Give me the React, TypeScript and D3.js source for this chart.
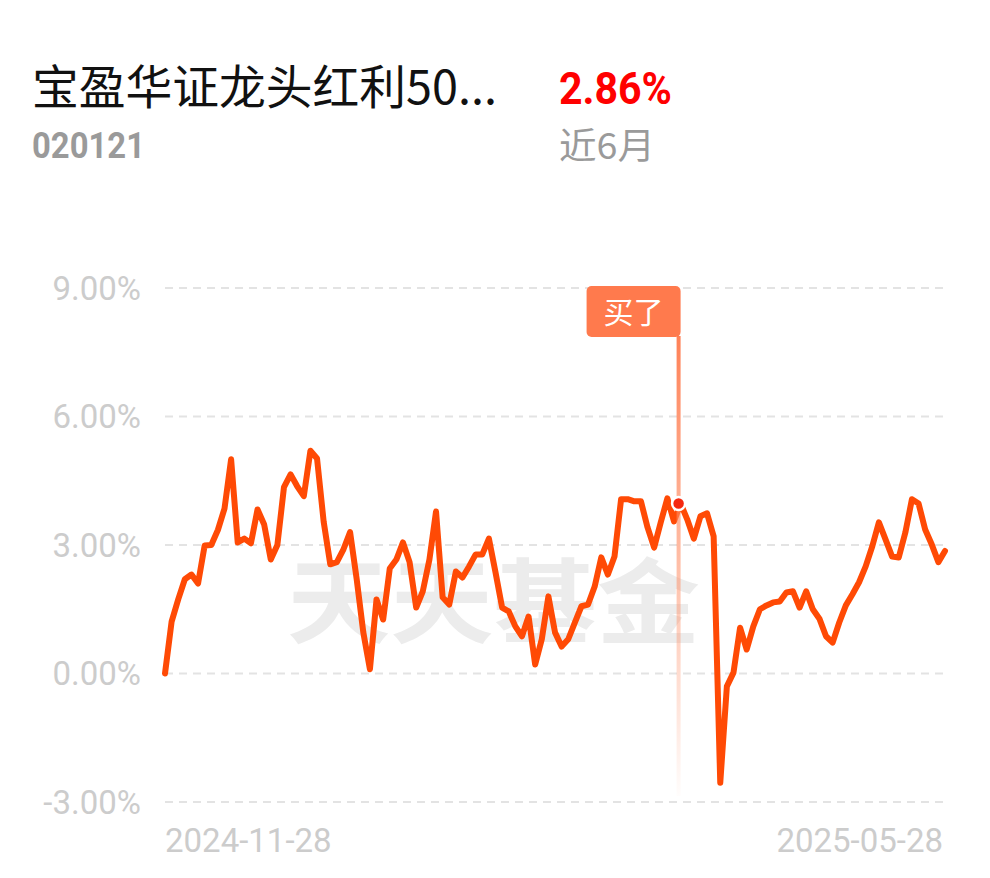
import React, { useEffect, useRef } from 'react';
import * as d3 from 'd3';

// daily return since start (%)
const returns: number[] = [
	0, 1.21, 1.73, 2.2, 2.31, 2.1, 2.99, 3.0, 3.35, 3.85,
	5.0, 3.06, 3.15, 3.04, 3.83, 3.48, 2.66, 3.0, 4.35, 4.65,
	4.37, 4.14, 5.2, 5.02, 3.55, 2.55, 2.6, 2.9, 3.3, 2.2,
	0.96, 0.1, 1.73, 1.26, 2.45, 2.66, 3.06, 2.6, 1.54, 1.92,
	2.66, 3.78, 1.78, 1.61, 2.38, 2.24, 2.5, 2.78, 2.78, 3.15,
	2.36, 1.54, 1.45, 1.1, 0.87, 1.33, 0.21, 0.8, 1.8, 0.96,
	0.63, 0.8, 1.19, 1.57, 1.61, 2.03, 2.71, 2.31, 2.73, 4.07,
	4.07, 4.02, 4.02, 3.41, 2.94, 3.53, 4.09, 3.55, 3.97, 3.6,
	3.15, 3.67, 3.74, 3.2, -2.55, -0.3, 0.02, 1.07, 0.56, 1.1,
	1.5, 1.59, 1.66, 1.68, 1.89, 1.92, 1.54, 1.92, 1.5, 1.28,
	0.87, 0.72, 1.19, 1.59, 1.85, 2.13, 2.5, 2.97, 3.53, 3.13,
	2.73, 2.71, 3.29, 4.07, 3.97, 3.36, 3.01, 2.6, 2.86,
];

const yTicks: number[] = [9, 6, 3, 0, -3];
const xTickLabels: string[] = ['2024-11-28', '2025-05-28'];
const buyIndex = 78;
const buyLabel = '买了';

const fundName = '宝盈华证龙头红利50...';
const fundCode = '020121';
const periodReturn = '2.86%';
const periodLabel = '近6月';

const App: React.FC = () => {
	const ref = useRef<SVGSVGElement>(null);

	const width = 990;
	const height = 878;
	const margin = { top: 288, right: 45, bottom: 76, left: 165 };

	useEffect(() => {
		if (!ref.current) return;
		const svg = d3.select(ref.current);
		svg.selectAll('*').remove();

		svg.append('rect').attr('width', width).attr('height', height).attr('fill', '#fff');

		const x = d3
			.scaleLinear()
			.domain([0, returns.length - 1])
			.range([margin.left, width - margin.right]);
		const y = d3
			.scaleLinear()
			.domain([-3, 9])
			.range([height - margin.bottom, margin.top]);

		// --- header ---
		svg
			.append('text')
			.attr('x', 32)
			.attr('y', 104)
			.attr('font-family', '"Noto Sans CJK SC", "Noto Sans", sans-serif')
			.attr('font-size', 47)
			.attr('fill', '#111')
			.attr('textLength', 465)
			.attr('lengthAdjust', 'spacingAndGlyphs')
			.text(fundName);
		svg
			.append('text')
			.attr('x', 32)
			.attr('y', 158)
			.attr('font-family', 'Roboto, sans-serif')
			.attr('font-weight', 'bold')
			.attr('font-size', 37)
			.attr('fill', '#9a9a9a')
			.attr('textLength', 113)
			.attr('lengthAdjust', 'spacingAndGlyphs')
			.text(fundCode);
		svg
			.append('text')
			.attr('x', 559)
			.attr('y', 104)
			.attr('font-family', 'Roboto, sans-serif')
			.attr('font-weight', 'bold')
			.attr('font-size', 44)
			.attr('fill', '#ff0000')
			.attr('textLength', 113)
			.attr('lengthAdjust', 'spacingAndGlyphs')
			.text(periodReturn);
		svg
			.append('text')
			.attr('x', 559)
			.attr('y', 159)
			.attr('font-family', '"Noto Sans CJK SC", sans-serif')
			.attr('font-size', 36)
			.attr('fill', '#9a9a9a')
			.attr('textLength', 96)
			.attr('lengthAdjust', 'spacingAndGlyphs')
			.text(periodLabel);

		// --- watermark ---
		svg
			.append('text')
			.attr('x', 287)
			.attr('y', 636)
			.attr('font-family', '"Noto Sans CJK SC", sans-serif')
			.attr('font-weight', 'bold')
			.attr('font-size', 92)
			.attr('fill', '#ececec')
			.attr('textLength', 413)
			.attr('lengthAdjust', 'spacingAndGlyphs')
			.text('天天基金');

		// --- grid + y labels ---
		const grid = svg.append('g');
		yTicks.forEach((t) => {
			grid
				.append('line')
				.attr('x1', margin.left)
				.attr('x2', width - margin.right)
				.attr('y1', y(t))
				.attr('y2', y(t))
				.attr('stroke', '#e3e3e3')
				.attr('stroke-width', 2)
				.attr('stroke-dasharray', '8,6');
			grid
				.append('text')
				.attr('x', 141)
				.attr('y', y(t))
				.attr('dy', '0.35em')
				.attr('text-anchor', 'end')
				.attr('font-family', 'Roboto, sans-serif')
				.attr('font-size', 33)
				.attr('fill', '#cccccc')
				.text(`${t.toFixed(2)}%`);
		});

		// --- x labels ---
		svg
			.append('text')
			.attr('x', x(0))
			.attr('y', 852)
			.attr('font-family', 'Roboto, sans-serif')
			.attr('font-size', 33)
			.attr('fill', '#cccccc')
			.text(xTickLabels[0]);
		svg
			.append('text')
			.attr('x', 943)
			.attr('y', 852)
			.attr('text-anchor', 'end')
			.attr('font-family', 'Roboto, sans-serif')
			.attr('font-size', 33)
			.attr('fill', '#cccccc')
			.text(xTickLabels[1]);

		// --- line ---
		const line = d3
			.line<number>()
			.x((_, i) => x(i))
			.y((d) => y(d));
		svg
			.append('path')
			.datum(returns)
			.attr('d', line)
			.attr('fill', 'none')
			.attr('stroke', '#ff4a05')
			.attr('stroke-width', 6)
			.attr('stroke-linejoin', 'round')
			.attr('stroke-linecap', 'round');

		// --- buy marker ---
		const bx = x(buyIndex) - 2;
		const defs = svg.append('defs');
		const grad = defs
			.append('linearGradient')
			.attr('id', 'buyGrad')
			.attr('x1', 0)
			.attr('y1', 0)
			.attr('x2', 0)
			.attr('y2', 1);
		grad.append('stop').attr('offset', '0%').attr('stop-color', '#ff7a4d').attr('stop-opacity', 0.95);
		grad.append('stop').attr('offset', '45%').attr('stop-color', '#ff8a60').attr('stop-opacity', 0.6);
		grad.append('stop').attr('offset', '100%').attr('stop-color', '#ff8a60').attr('stop-opacity', 0.02);

		svg
			.append('rect')
			.attr('x', bx - 2)
			.attr('y', 336)
			.attr('width', 4)
			.attr('height', 460)
			.attr('fill', 'url(#buyGrad)');

		svg
			.append('rect')
			.attr('x', bx - 92)
			.attr('y', 286)
			.attr('width', 94)
			.attr('height', 51)
			.attr('rx', 5)
			.attr('fill', '#ff7a4d');
		svg
			.append('text')
			.attr('x', bx - 45)
			.attr('y', 312)
			.attr('dy', '0.35em')
			.attr('text-anchor', 'middle')
			.attr('font-family', '"Noto Sans CJK SC", sans-serif')
			.attr('font-size', 30)
			.attr('fill', '#fff')
			.text(buyLabel);

		svg
			.append('circle')
			.attr('cx', bx)
			.attr('cy', y(returns[buyIndex]))
			.attr('r', 6.5)
			.attr('fill', '#f5280f')
			.attr('stroke', '#fff')
			.attr('stroke-width', 2.5);
	}, []);

	return (
		<div style={{ position: 'absolute', left: 0, top: 0 }}>
			<svg ref={ref} width={width} height={height} style={{ display: 'block' }}></svg>
		</div>
	);
};

export default App;
